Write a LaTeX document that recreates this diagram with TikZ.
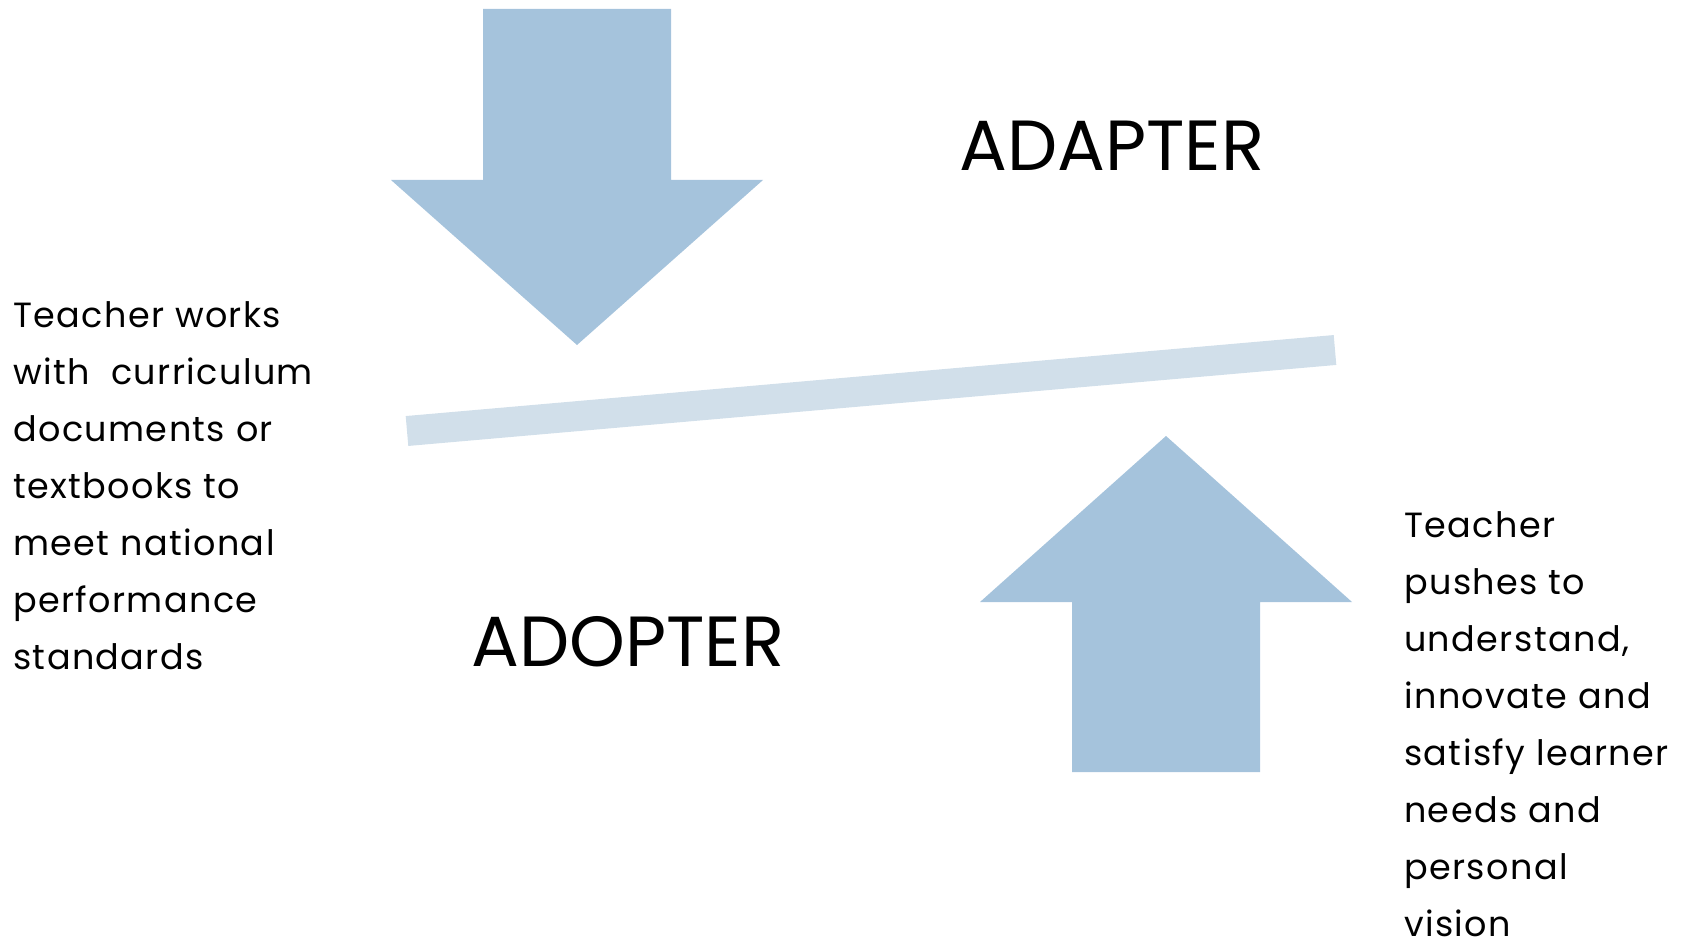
\documentclass[tikz,border=0pt]{standalone}
\usepackage{fontspec}
\setmainfont{Poppins}
\newfontfamily\bodyfont[LetterSpace=4]{Poppins}
\definecolor{arrowblue}{HTML}{A5C3DC}
\definecolor{barblue}{HTML}{D1DFEA}
\tikzset{
  bigarrow/.style={fill=arrowblue, draw=none},
  bar/.style={draw=barblue, line width=30pt, line cap=butt},
  title/.style={font=\fontsize{71}{80}\selectfont, inner sep=0pt},
  body/.style={font=\bodyfont\fontsize{35}{57}\selectfont, inner sep=0pt, anchor=base west},
}
\begin{document}
\begin{tikzpicture}[x=1pt, y=-1pt]
\useasboundingbox (0,0) rectangle (1694,944);
% down arrow
\fill[bigarrow] (483,9) -- (671,9) -- (671,180) -- (763,180) -- (577,345) -- (391,180) -- (483,180) -- cycle;
% up arrow
\fill[bigarrow] (1072,772) -- (1260,772) -- (1260,602) -- (1352,602) -- (1166,436) -- (980,602) -- (1072,602) -- cycle;
% bar
\coordinate (barL) at (407,431);
\coordinate (barR) at (1335,350);
\draw[bar] (barL) -- (barR);
% titles
\node[title] (adapter) at (1112,146) {ADAPTER};
\node[title] (adopter) at (628,642) {ADOPTER};
% left text
\foreach \t [count=\i] in {Teacher works, with\ \ curriculum, documents or, textbooks to, meet national, performance, standards}
  \node[body] (left\i) at (13, 327+57*\i-57) {\t};
% right text
\foreach \t [count=\i] in {Teacher, pushes to, {understand,}, innovate and, satisfy learner, needs and, personal, vision}
  \node[body] (right\i) at (1404, 537+57*\i-57) {\t};
\end{tikzpicture}
\end{document}
